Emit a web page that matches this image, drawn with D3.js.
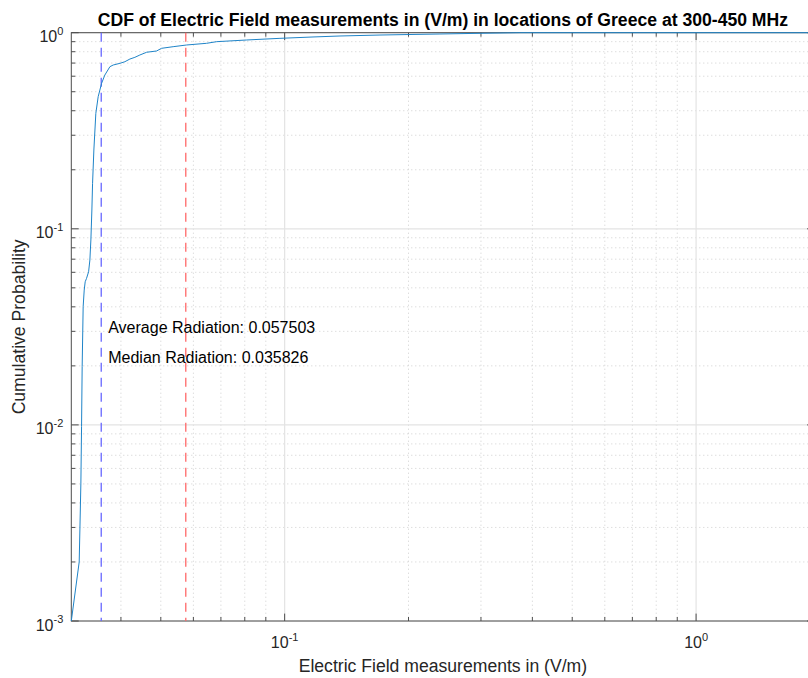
<!DOCTYPE html>
<html>
<head>
<meta charset="utf-8">
<script src="https://cdn.jsdelivr.net/npm/d3@7/dist/d3.min.js"></script>
<style>
  html, body { margin: 0; padding: 0; background: #fff; }
  svg { display: block; font-family: "Liberation Sans", Arial, Helvetica, sans-serif; }
</style>
</head>
<body>
<svg id="chart" width="808" height="678"></svg>
<script>
// Empirical CDF of electric field strength (V/m), 300-450 MHz band
const fieldValues = [0.0303, 0.03167, 0.03197, 0.03209, 0.0322, 0.03238, 0.03257, 0.03275,
  0.0330, 0.03338, 0.03362, 0.03381, 0.0340, 0.03413, 0.03438, 0.03476, 0.03522, 0.0359,
  0.03656, 0.03761, 0.03832, 0.03978, 0.0409, 0.04206, 0.04325, 0.04447, 0.04618, 0.04884,
  0.05022, 0.05358, 0.05777, 0.06461, 0.06833, 0.08084, 0.09741, 0.1172, 0.1363, 0.1705,
  0.2385, 0.2985, 0.3735, 1.94];
const cumulativeProb = [0.001, 0.002, 0.00505, 0.00979, 0.0198, 0.0401, 0.0487, 0.0537,
  0.0559, 0.0604, 0.0693, 0.0877, 0.1247, 0.1706, 0.2522, 0.388, 0.4718, 0.552,
  0.6084, 0.6709, 0.6844, 0.698, 0.7113, 0.734, 0.749, 0.7696, 0.7946, 0.8068,
  0.8326, 0.8484, 0.8656, 0.883, 0.90, 0.918, 0.936, 0.951, 0.962, 0.973,
  0.985, 0.993, 1.0, 1.0];

const averageRadiation = 0.057503;
const medianRadiation = 0.035826;

const xDomain = [0.0303, 1.94];
const yDomain = [0.001, 1];
const xMajorTicks = [0.1, 1];
const xTickExponents = ["-1", "0"];
const yMajorTicks = [0.001, 0.01, 0.1, 1];
const yTickExponents = ["-3", "-2", "-1", "0"];

const titleText = "CDF of Electric Field measurements in (V/m) in locations of Greece at 300-450 MHz";
const xLabelText = "Electric Field measurements in (V/m)";
const yLabelText = "Cumulative Probability";
const averageLabel = "Average Radiation: " + averageRadiation.toFixed(6);
const medianLabel = "Median Radiation: " + medianRadiation.toFixed(6);
// annotation anchor points (data units)
const annotationX = medianRadiation * 1.04;
const annotationY = [0.0294, 0.0207];

const svg = d3.select("#chart");
const plot = { left: 71.3, right: 814.5, top: 32.7, bottom: 621 };

const x = d3.scaleLog().domain(xDomain).range([plot.left, plot.right]);
const y = d3.scaleLog().domain(yDomain).range([plot.bottom, plot.top]);

// minor tick positions: 2..9 within each decade, inside domain
function minorTicks(domain) {
  const out = [];
  const lo = Math.floor(Math.log10(domain[0])), hi = Math.ceil(Math.log10(domain[1]));
  for (let e = lo; e < hi; e++) {
    for (let m = 2; m <= 9; m++) {
      const v = m * Math.pow(10, e);
      if (v > domain[0] * 1.0001 && v < domain[1] * 0.9999) out.push(v);
    }
  }
  return out;
}
const xMinor = minorTicks(xDomain);
const yMinor = minorTicks(yDomain);

const axisColor = "#262626";
const grid = svg.append("g");

// minor grid (dotted)
grid.append("g").selectAll("line").data(xMinor).join("line")
  .attr("x1", d => x(d)).attr("x2", d => x(d))
  .attr("y1", plot.top).attr("y2", plot.bottom)
  .attr("stroke", "#cfcfcf").attr("stroke-width", 1).attr("stroke-dasharray", "1,3");
grid.append("g").selectAll("line").data(yMinor).join("line")
  .attr("y1", d => y(d)).attr("y2", d => y(d))
  .attr("x1", plot.left).attr("x2", plot.right)
  .attr("stroke", "#cfcfcf").attr("stroke-width", 1).attr("stroke-dasharray", "1,3");

// major grid (solid)
grid.append("g").selectAll("line").data(xMajorTicks).join("line")
  .attr("x1", d => x(d)).attr("x2", d => x(d))
  .attr("y1", plot.top).attr("y2", plot.bottom)
  .attr("stroke", "#e3e3e3").attr("stroke-width", 1.2);
grid.append("g").selectAll("line").data(yMajorTicks).join("line")
  .attr("y1", d => y(d)).attr("y2", d => y(d))
  .attr("x1", plot.left).attr("x2", plot.right)
  .attr("stroke", "#e3e3e3").attr("stroke-width", 1.2);

// axes box and inward ticks
const box = svg.append("g").attr("stroke", "#4d4d4d").attr("stroke-width", 1).attr("fill", "none");
box.append("rect")
  .attr("x", plot.left).attr("y", plot.top)
  .attr("width", plot.right - plot.left).attr("height", plot.bottom - plot.top);
const majorLen = 7.4, minorLen = 4;
[[xMajorTicks, majorLen], [xMinor, minorLen]].forEach(([ticks, len]) => {
  box.append("g").selectAll("line").data(ticks).join("line")
    .attr("x1", d => x(d)).attr("x2", d => x(d))
    .attr("y1", plot.bottom).attr("y2", plot.bottom - len);
  box.append("g").selectAll("line").data(ticks).join("line")
    .attr("x1", d => x(d)).attr("x2", d => x(d))
    .attr("y1", plot.top).attr("y2", plot.top + len);
});
[[yMajorTicks, majorLen], [yMinor, minorLen]].forEach(([ticks, len]) => {
  box.append("g").selectAll("line").data(ticks).join("line")
    .attr("y1", d => y(d)).attr("y2", d => y(d))
    .attr("x1", plot.left).attr("x2", plot.left + len);
  box.append("g").selectAll("line").data(ticks).join("line")
    .attr("y1", d => y(d)).attr("y2", d => y(d))
    .attr("x1", plot.right).attr("x2", plot.right - len);
});

// data layer above the frame (the CDF plateau runs along the top edge)
const g = svg.append("g");

// reference lines: median (blue) and average (red)
g.append("line")
  .attr("x1", x(medianRadiation)).attr("x2", x(medianRadiation))
  .attr("y1", plot.top).attr("y2", plot.bottom)
  .attr("stroke", "#6868ff").attr("stroke-width", 1.3).attr("stroke-dasharray", "9,6");
g.append("line")
  .attr("x1", x(averageRadiation)).attr("x2", x(averageRadiation))
  .attr("y1", plot.top).attr("y2", plot.bottom)
  .attr("stroke", "#ff6868").attr("stroke-width", 1.3).attr("stroke-dasharray", "9,6");

// CDF curve
const points = fieldValues.map((v, i) => [v, cumulativeProb[i]]);
g.append("path")
  .datum(points)
  .attr("fill", "none")
  .attr("stroke", "#1f84c8")
  .attr("stroke-width", 1)
  .attr("stroke-linejoin", "round")
  .attr("d", d3.line().x(d => x(d[0])).y(d => y(d[1])));

// tick labels: 10^n
function powerLabel(sel, exp) {
  sel.append("tspan").text("10");
  sel.append("tspan").attr("dy", -7.5).attr("font-size", 11).text(exp);
}
svg.append("g").selectAll("text").data(xMajorTicks).join("text")
  .attr("x", d => x(d)).attr("y", plot.bottom + 27)
  .attr("text-anchor", "middle").attr("font-size", 16).attr("fill", axisColor)
  .each(function(d, i) { powerLabel(d3.select(this), xTickExponents[i]); });
svg.append("g").selectAll("text").data(yMajorTicks).join("text")
  .attr("x", plot.left - 8).attr("y", d => y(d) + 9.5)
  .attr("text-anchor", "end").attr("font-size", 16).attr("fill", axisColor)
  .each(function(d, i) { powerLabel(d3.select(this), yTickExponents[i]); });

// annotations
svg.append("g").selectAll("text").data([averageLabel, medianLabel]).join("text")
  .attr("x", x(annotationX)).attr("y", (d, i) => y(annotationY[i]))
  .attr("font-size", 16).attr("fill", "#000").text(d => d);

// title and axis labels
const cx = (plot.left + plot.right) / 2;
svg.append("text").attr("x", cx).attr("y", 26)
  .attr("text-anchor", "middle").attr("font-size", 17.6).attr("font-weight", "bold")
  .attr("fill", "#000").text(titleText);
svg.append("text").attr("x", cx).attr("y", 671.5)
  .attr("text-anchor", "middle").attr("font-size", 17.6).attr("fill", axisColor)
  .text(xLabelText);
svg.append("text")
  .attr("transform", `translate(25,${(plot.top + plot.bottom) / 2}) rotate(-90)`)
  .attr("text-anchor", "middle").attr("font-size", 17.6).attr("fill", axisColor)
  .text(yLabelText);
</script>
</body>
</html>
